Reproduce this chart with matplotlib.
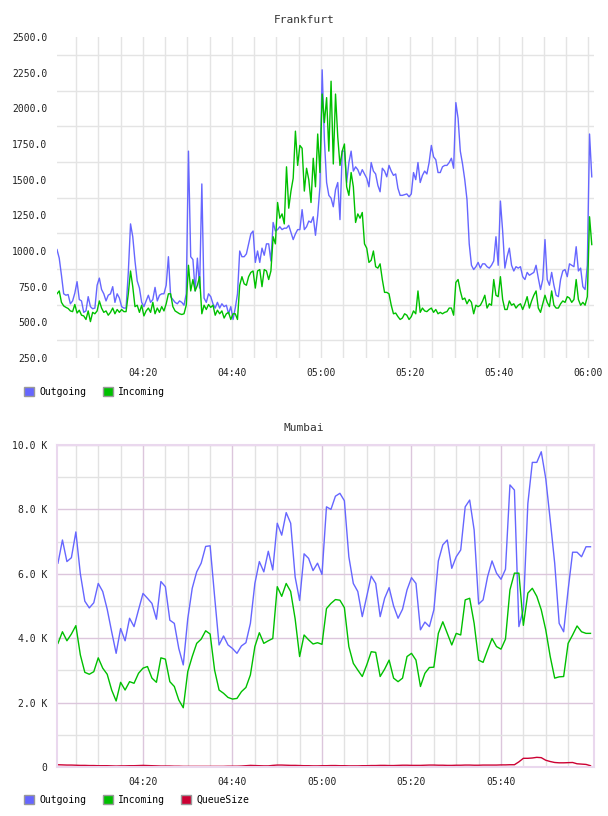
import numpy as np
import matplotlib

matplotlib.use("Agg")
import matplotlib.pyplot as plt
import matplotlib.dates as mdates
from matplotlib.patches import Patch
from matplotlib.ticker import FixedLocator, FuncFormatter, MultipleLocator

# Frankfurt: one sample every 30 s, starting 04:00:45
fra_start = np.datetime64("2000-01-01T04:00:45")
fra_outgoing = [
    1010, 950, 830, 700, 690, 695, 630, 650, 705, 785,
    660, 650, 570, 580, 680, 610, 595, 600, 760, 810,
    730, 700, 650, 690, 700, 750, 640, 700, 670, 610,
    600, 600, 850, 1190, 1100, 930, 790, 740, 640, 610,
    650, 690, 640, 660, 745, 650, 690, 700, 700, 760,
    960, 680, 660, 640, 630, 650, 640, 620, 700, 1700,
    960, 940, 720, 950, 740, 1470, 670, 640, 700, 680,
    630, 600, 640, 600, 630, 610, 620, 560, 610, 520,
    600, 700, 1000, 960, 960, 980, 1050, 1120, 1140, 920,
    1000, 920, 1020, 970, 1050, 1050, 930, 1200, 1140, 1150,
    1170, 1150, 1160, 1160, 1180, 1130, 1080, 1120, 1150, 1150,
    1290, 1150, 1170, 1210, 1200, 1240, 1110, 1250, 1450, 2270,
    1780, 1480, 1390, 1370, 1310, 1430, 1480, 1220, 1700, 1700,
    1480, 1620, 1700, 1560, 1590, 1570, 1530, 1570, 1540, 1510,
    1450, 1620, 1560, 1540, 1460, 1415, 1580, 1560, 1520, 1600,
    1560, 1530, 1540, 1440, 1390, 1390, 1395, 1400, 1380, 1400,
    1550, 1500, 1620, 1480, 1530, 1560, 1540, 1620, 1740, 1660,
    1640, 1550, 1550, 1590, 1600, 1600, 1620, 1650, 1580, 2040,
    1930, 1700, 1610, 1500, 1360, 1050, 900, 870, 890, 920,
    880, 910, 910, 890, 880, 900, 930, 1100, 900, 1350,
    1140, 880, 960, 1020, 900, 860, 890, 880, 890, 820,
    800, 850, 830, 840, 850, 900, 810, 730, 800, 1080,
    800, 760, 850, 760, 690, 680, 800, 860, 870, 820,
    910, 900, 890, 1030, 860, 880, 750, 730, 900, 1820,
    1520,
]
fra_incoming = [
    700, 720, 640, 615, 605, 597, 580, 575, 625, 565,
    585, 550, 545, 520, 580, 505, 570, 560, 580, 650,
    600, 570, 580, 550, 570, 600, 560, 590, 570, 590,
    575, 575, 700, 860, 750, 610, 620, 570, 620, 545,
    580, 600, 570, 640, 560, 600, 570, 610, 580, 630,
    700, 700, 610, 580, 570, 560, 555, 560, 620, 900,
    720, 800, 720, 760, 820, 560, 620, 590, 625, 605,
    620, 550, 585, 560, 580, 530, 560, 570, 520, 560,
    560, 520, 760, 820, 770, 760, 820, 850, 860, 740,
    860, 870, 750, 870, 860, 800, 860, 1100, 1050, 1340,
    1230, 1260, 1190, 1590, 1300, 1420, 1510, 1840, 1600, 1740,
    1720, 1420, 1580, 1500, 1340, 1650, 1450, 1820, 1550, 2100,
    1900, 2075, 1700, 2190, 1610, 2100, 1800, 1600, 1700, 1750,
    1450, 1390, 1550, 1450, 1200, 1260, 1230, 1270, 1050, 1020,
    920, 935, 1000, 890, 880, 910, 800, 710, 710, 700,
    620, 560, 565, 540, 520, 530, 560, 550, 520, 540,
    580, 560, 720, 570, 600, 580, 575, 590, 600, 570,
    590, 560, 570, 560, 570, 575, 600, 600, 550, 780,
    800, 720, 660, 670, 630, 660, 640, 560, 620, 610,
    620, 650, 690, 600, 630, 620, 800, 690, 680, 820,
    660, 590, 590, 650, 620, 630, 600, 620, 630, 590,
    630, 680, 600, 650, 690, 720, 600, 570, 630, 690,
    640, 610, 720, 620, 600, 600, 630, 650, 640, 680,
    670, 640, 660, 800, 660, 620, 640, 620, 680, 1240,
    1045,
]

# Mumbai: one sample per minute, starting 04:01
mum_start = np.datetime64("2000-01-01T04:01:00")
mum_outgoing = [
    6330, 7050, 6380, 6500, 7300, 6000, 5150, 4940, 5100, 5700,
    5450, 4900, 4200, 3530, 4300, 3920, 4620, 4360, 4880, 5390,
    5240, 5080, 4590, 5760, 5600, 4560, 4460, 3680, 3170, 4600,
    5550, 6060, 6330, 6850, 6870, 5300, 3790, 4070, 3790, 3680,
    3530, 3760, 3860, 4460, 5700, 6380, 6060, 6700, 6120, 7570,
    7200, 7900, 7570, 5900, 5170, 6620, 6480, 6100, 6330, 5980,
    8080, 8000, 8410, 8500, 8270, 6530, 5700, 5450, 4670, 5300,
    5930, 5700, 4670, 5240, 5570, 5000, 4620, 4900, 5500, 5880,
    5700, 4260, 4500, 4360, 4880, 6400, 6900, 7050, 6170, 6530,
    6740, 8080, 8290, 7360, 5060, 5190, 5910, 6400, 6020, 5830,
    6140, 8760, 8600, 4360, 4900, 8180, 9460, 9460, 9790, 8960,
    7670, 6330, 4460, 4200, 5500, 6670, 6670, 6530, 6840, 6840,
]
mum_incoming = [
    3840, 4200, 3920, 4130, 4390, 3480, 2940, 2880, 2960, 3390,
    3070, 2880, 2390, 2050, 2630, 2390, 2650, 2600, 2910, 3070,
    3120, 2760, 2630, 3390, 3350, 2650, 2500, 2080, 1840, 2960,
    3430, 3840, 3970, 4230, 4130, 3010, 2390, 2290, 2160, 2110,
    2130, 2340, 2470, 2860, 3740, 4170, 3840, 3920, 3990, 5600,
    5300, 5700, 5450, 4600, 3430, 4100, 3950, 3820, 3860, 3810,
    4920, 5080, 5200, 5180, 4950, 3740, 3220, 3010, 2810, 3170,
    3580, 3560, 2810, 3040, 3320, 2760, 2650, 2760, 3430, 3530,
    3320, 2500, 2910, 3090, 3100, 4150, 4510, 4150, 3790, 4150,
    4100, 5190, 5240, 4460, 3320, 3250, 3630, 3990, 3740, 3660,
    3970, 5500, 6020, 6020, 4400, 5400, 5550, 5300, 4880, 4260,
    3430, 2760, 2800, 2810, 3840, 4100, 4380, 4200, 4150, 4150,
]
mum_queue = [
    70, 65, 60, 60, 55, 50, 50, 45, 45, 40,
    40, 40, 35, 30, 35, 35, 40, 40, 45, 50,
    45, 40, 35, 30, 30, 30, 25, 25, 20, 20,
    20, 20, 20, 20, 20, 20, 20, 20, 25, 25,
    25, 30, 40, 50, 45, 40, 35, 35, 50, 60,
    60, 55, 50, 50, 45, 40, 40, 35, 35, 40,
    40, 45, 45, 40, 40, 35, 35, 35, 40, 40,
    45, 45, 50, 50, 45, 45, 50, 55, 55, 50,
    50, 50, 55, 60, 60, 55, 55, 50, 50, 55,
    55, 60, 60, 55, 55, 60, 60, 60, 60, 65,
    65, 70, 70, 160, 270, 270, 280, 300, 290, 210,
    170, 140, 130, 130, 135, 140, 100, 90, 80, 40,
]
mum_labels = ["04:20", "04:40", "05:00", "05:20", "05:40"]

BLUE = "#6666ff"
GREEN = "#00c000"
RED = "#cc0033"

plt.rcParams["font.family"] = "DejaVu Sans Mono"
plt.rcParams["font.size"] = 7

fra_t = (fra_start + np.arange(len(fra_outgoing)) * np.timedelta64(30, "s")).astype("datetime64[ms]").astype(object)
mum_t = (mum_start + np.arange(len(mum_outgoing)) * np.timedelta64(1, "m")).astype("datetime64[ms]").astype(object)


def as_dt(s):
    return np.datetime64("2000-01-01T" + s).astype("datetime64[ms]").astype(object)


fig = plt.figure(figsize=(6.08, 8.16), dpi=100)
W, H = 608, 816


def box(l, t, r, b):
    return [l / W, 1 - b / H, (r - l) / W, (b - t) / H]


def legend(y, items):
    handles = [Patch(facecolor=c, edgecolor="#999999", linewidth=1) for c, _ in items]
    fig.legend(
        handles, [n for _, n in items], loc="center left",
        bbox_to_anchor=(24 / W, 1 - y / H), ncol=len(items), frameon=False,
        handlelength=1.05, handleheight=1.05, handletextpad=0.5,
        columnspacing=1.7, borderpad=0, borderaxespad=0, fontsize=7,
    )


# ---- Frankfurt ----
ax1 = fig.add_axes(box(57, 37, 594, 358))
ax1.plot(fra_t, fra_outgoing, color=BLUE, lw=1.0)
ax1.plot(fra_t, fra_incoming, color=GREEN, lw=1.0)
ax1.set_ylim(250, 2500)
ax1.set_xlim(as_dt("04:00:45"), as_dt("06:01:15"))
ax1.yaxis.set_major_locator(MultipleLocator(250))
ax1.yaxis.set_minor_locator(FixedLocator(np.arange(375, 2500, 250)))
ax1.yaxis.set_major_formatter(FuncFormatter(lambda v, p: f"{v:.1f}"))
ax1.xaxis.set_major_locator(mdates.MinuteLocator(byminute=[0, 20, 40]))
ax1.xaxis.set_minor_locator(mdates.MinuteLocator(byminute=range(0, 60, 5)))
ax1.xaxis.set_major_formatter(mdates.DateFormatter("%H:%M"))
ax1.grid(True, axis="x", which="both", color="#e4e4e4", lw=1)
ax1.grid(True, axis="y", which="minor", color="#e4e4e4", lw=1)
ax1.grid(False, axis="y", which="major")
for s in ax1.spines.values():
    s.set_visible(False)
ax1.tick_params(which="both", length=0, pad=7, labelsize=7, colors="#222222")
ax1.set_axisbelow(True)
fig.text(304 / W, 1 - 20 / H, "Frankfurt", ha="center", va="center", fontsize=8, color="#333333")
legend(392, [(BLUE, "Outgoing"), (GREEN, "Incoming")])

# ---- Mumbai ----
ax2 = fig.add_axes(box(57, 445, 594, 767))
ax2.plot(mum_t, mum_outgoing, color=BLUE, lw=1.0)
ax2.plot(mum_t, mum_incoming, color=GREEN, lw=1.0)
ax2.plot(mum_t, mum_queue, color=RED, lw=1.0)
ax2.set_ylim(0, 10000)
ax2.set_xlim(as_dt("04:00:47"), as_dt("06:00:47"))
ax2.yaxis.set_major_locator(MultipleLocator(2000))
ax2.yaxis.set_minor_locator(MultipleLocator(1000))
ax2.yaxis.set_major_formatter(FuncFormatter(lambda v, p: "0" if v == 0 else f"{v / 1000:.1f} K"))
major_x = [mdates.date2num(as_dt(s)) for s in mum_labels]
minor_x = [mdates.date2num(as_dt(f"{h:02d}:{m:02d}")) for h in (4, 5) for m in range(0, 60, 5)
           if (h, m) != (4, 0)]
ax2.xaxis.set_major_locator(FixedLocator(major_x))
ax2.xaxis.set_minor_locator(FixedLocator(minor_x))
ax2.xaxis.set_major_formatter(mdates.DateFormatter("%H:%M"))
ax2.grid(True, which="minor", color="#e2e2e2", lw=1)
ax2.grid(True, which="major", color="#dcc6dc", lw=1)
for s in ax2.spines.values():
    s.set_color("#ead8ee")
    s.set_linewidth(1.5)
ax2.tick_params(which="both", length=0, pad=7, labelsize=7, colors="#222222")
ax2.set_axisbelow(True)
fig.text(304 / W, 1 - 428 / H, "Mumbai", ha="center", va="center", fontsize=8, color="#333333")
legend(800, [(BLUE, "Outgoing"), (GREEN, "Incoming"), (RED, "QueueSize")])

fig.savefig("out.png", dpi=100)
